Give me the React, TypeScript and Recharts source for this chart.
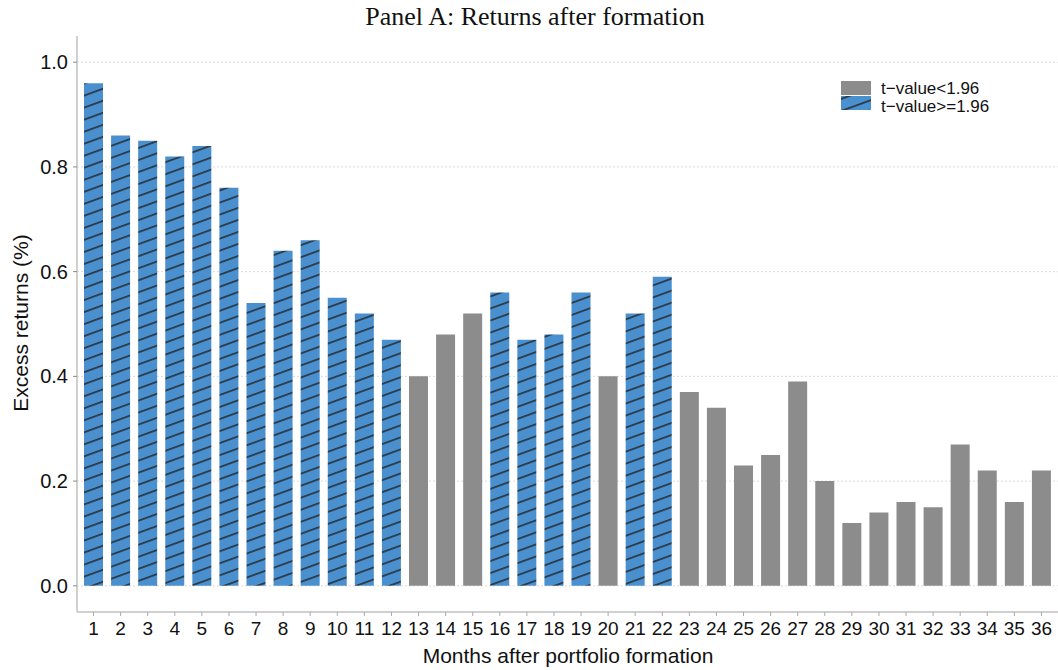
import { BarChart, Bar, Cell, XAxis, YAxis, CartesianGrid } from 'recharts';

// months after formation
const months = [
  1, 2, 3, 4, 5, 6, 7, 8, 9, 10, 11, 12, 13, 14, 15, 16, 17, 18,
  19, 20, 21, 22, 23, 24, 25, 26, 27, 28, 29, 30, 31, 32, 33, 34, 35, 36,
];

// excess returns (%)
const returns = [
  0.96, 0.86, 0.85, 0.82, 0.84, 0.76, 0.54, 0.64, 0.66, 0.55, 0.52, 0.47,
  0.40, 0.48, 0.52, 0.56, 0.47, 0.48, 0.56, 0.40, 0.52, 0.59, 0.37, 0.34,
  0.23, 0.25, 0.39, 0.20, 0.12, 0.14, 0.16, 0.15, 0.27, 0.22, 0.16, 0.22,
];

// t-value >= 1.96 ?
const significant = [
  1, 1, 1, 1, 1, 1, 1, 1, 1, 1, 1, 1,
  0, 0, 0, 1, 1, 1, 1, 0, 1, 1, 0, 0,
  0, 0, 0, 0, 0, 0, 0, 0, 0, 0, 0, 0,
];

const yTicks = [0, 0.2, 0.4, 0.6, 0.8, 1.0];

const BLUE = '#4a90cf';
const GREY = '#8c8c8c';
const FONT = '"Liberation Sans", Arial, sans-serif';

const data = months.map((m, i) => ({
  month: String(m),
  ret: returns[i],
  sig: significant[i] === 1,
}));

function Hatch({ id }: { id: string }) {
  return (
    <pattern
      id={id}
      patternUnits="userSpaceOnUse"
      width={12}
      height={11.3}
      patternTransform="rotate(-20)"
    >
      <rect x={0} y={0} width={12} height={11.3} fill={BLUE} />
      <line x1={0} y1={5.6} x2={12} y2={5.6} stroke="#222" strokeWidth={1.4} />
    </pattern>
  );
}

export default function App() {
  return (
    <div
      style={{
        position: 'absolute',
        left: 0,
        top: 0,
        width: 1058,
        height: 670,
        background: '#fff',
        fontFamily: FONT,
      }}
    >
      <div
        style={{
          position: 'absolute',
          top: 2,
          left: 0,
          width: 1070,
          textAlign: 'center',
          fontFamily: '"Liberation Serif", "Times New Roman", serif',
          fontSize: 26,
          color: '#111',
        }}
      >
        Panel A: Returns after formation
      </div>

      <BarChart
        width={1058}
        height={670}
        data={data}
        margin={{ top: 36, right: 0, bottom: 0, left: 0 }}
        barCategoryGap={0}
      >
        <defs>
          <Hatch id="hatch" />
        </defs>
        <CartesianGrid
          vertical={false}
          horizontalValues={yTicks}
          stroke="#dcdcdc"
          strokeDasharray="2 2"
        />
        <XAxis
          dataKey="month"
          height={58}
          padding={{ left: 3, right: 3 }}
          interval={0}
          axisLine={{ stroke: '#d0d0d0', strokeWidth: 2 }}
          tickLine={{ stroke: '#aaa' }}
          tickSize={4}
          tick={{ fontSize: 19, fill: '#111', fontFamily: FONT, dy: 4 }}
        />
        <YAxis
          width={77}
          domain={[-0.05, 1.05]}
          ticks={yTicks}
          allowDataOverflow
          tickFormatter={(v: number) => v.toFixed(1)}
          axisLine={{ stroke: '#d0d0d0', strokeWidth: 2 }}
          tickLine={{ stroke: '#888' }}
          tickSize={4}
          tickMargin={5}
          tick={{ fontSize: 20, fill: '#111', fontFamily: FONT }}
        />
        <Bar dataKey="ret" barSize={19} isAnimationActive={false}>
          {data.map((d, i) => (
            <Cell key={i} fill={d.sig ? 'url(#hatch)' : GREY} />
          ))}
        </Bar>
      </BarChart>

      <div
        style={{
          position: 'absolute',
          left: 0,
          top: 644,
          width: 1136,
          textAlign: 'center',
          fontSize: 21,
          lineHeight: '24px',
          color: '#111',
        }}
      >
        Months after portfolio formation
      </div>
      <div
        style={{
          position: 'absolute',
          left: 21,
          top: 323,
          transform: 'translate(-50%, -50%) rotate(-90deg)',
          whiteSpace: 'nowrap',
          fontSize: 21,
          color: '#111',
        }}
      >
        Excess returns (%)
      </div>

      <svg
        style={{ position: 'absolute', left: 841, top: 81 }}
        width={31}
        height={30}
      >
        <defs>
          <Hatch id="hatchLegend" />
        </defs>
        <rect x={0} y={0} width={30} height={14} fill={GREY} />
        <rect x={0} y={15} width={30} height={14} fill="url(#hatchLegend)" />
      </svg>
      <div
        style={{
          position: 'absolute',
          left: 881,
          top: 80,
          fontSize: 17,
          lineHeight: '18px',
          color: '#111',
        }}
      >
        <div>t−value&lt;1.96</div>
        <div>t−value&gt;=1.96</div>
      </div>
    </div>
  );
}
